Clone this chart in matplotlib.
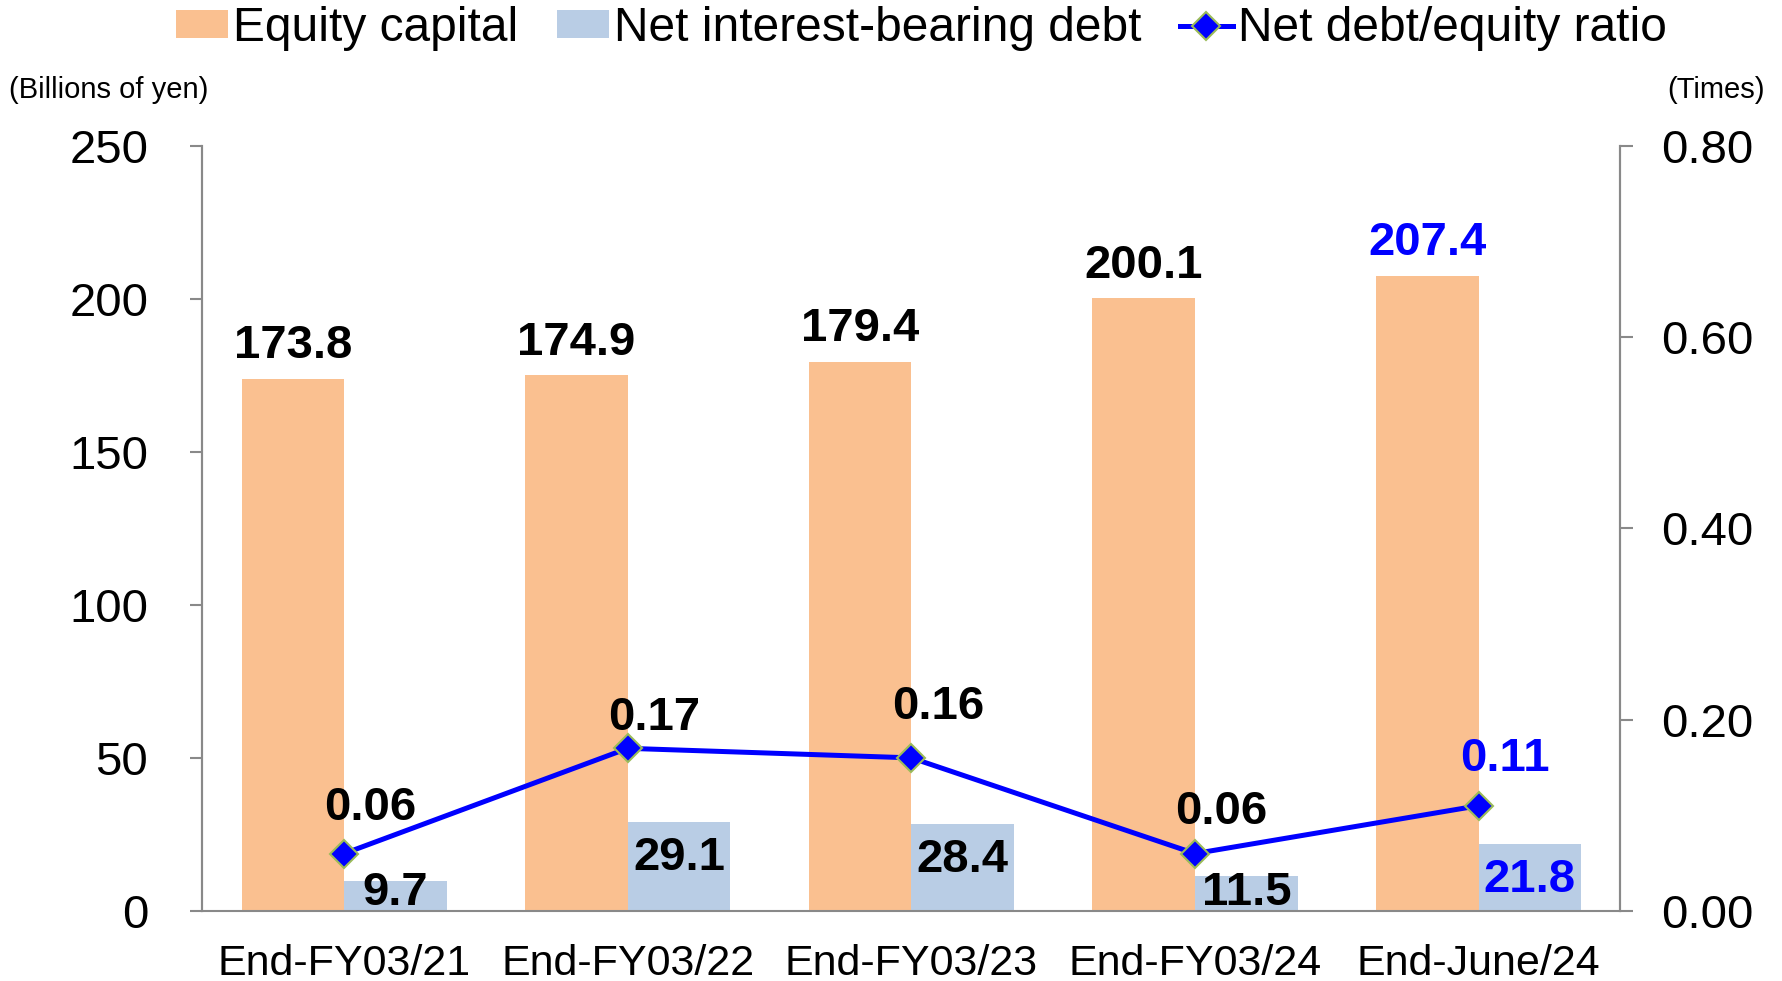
import matplotlib
matplotlib.use("Agg")
import matplotlib.pyplot as plt
import numpy as np

# data
periods = ["End-FY03/21", "End-FY03/22", "End-FY03/23", "End-FY03/24", "End-June/24"]
equity = [173.8, 174.9, 179.4, 200.1, 207.4]
net_debt = [9.7, 29.1, 28.4, 11.5, 21.8]
de_ratio = [0.06, 0.17, 0.16, 0.06, 0.11]

plt.rcParams['font.family'] = ['Liberation Sans', 'DejaVu Sans']

orange = '#FAC090'
lightblue = '#B9CDE5'
blue = '#0000FF'
grey = '#898989'
label_colors = ['black', 'black', 'black', 'black', blue]

fig = plt.figure(figsize=(17.83, 9.81), dpi=100)
ax = fig.add_axes([0.1135, 0.0714, 0.7953, 0.7802])
ax2 = ax.twinx()

x = np.arange(len(periods))
w = 0.362

b1 = ax.bar(x - w / 2, equity, w, color=orange, label='Equity capital', zorder=2)
b2 = ax.bar(x + w / 2, net_debt, w, color=lightblue, label='Net interest-bearing debt', zorder=2)
ln, = ax2.plot(x, de_ratio, color=blue, lw=3.6, marker='D', markersize=14,
               markerfacecolor=blue, markeredgecolor='#9BBB59', markeredgewidth=1.5,
               label='Net debt/equity ratio', zorder=3)

ax.set_xlim(-0.5, len(periods) - 0.5)
ax.set_ylim(0, 250)
ax.set_yticks(np.arange(0, 251, 50))
ax2.set_ylim(0, 0.8)
ax2.set_yticks(np.arange(0, 0.81, 0.2))
ax2.set_yticklabels(['%.2f' % t for t in np.arange(0, 0.81, 0.2)])

ax.set_xticks(x)
ax.set_xticklabels(periods, fontsize=31)
ax.tick_params(axis='x', length=0, pad=24)
ax.tick_params(axis='y', labelsize=34, length=9, width=1.5, color=grey, pad=30)
ax2.tick_params(axis='y', labelsize=34, length=9, width=1.5, color=grey, pad=20)

for a in (ax, ax2):
    a.spines['top'].set_visible(False)
    for s in ('left', 'right', 'bottom'):
        a.spines[s].set_color(grey)
        a.spines[s].set_linewidth(1.5)
ax2.spines['bottom'].set_visible(False)

# value labels
for i in range(len(periods)):
    c = label_colors[i]
    ax.annotate('%.1f' % equity[i], (x[i] - w / 2, equity[i]), xytext=(0, 15),
                textcoords='offset points', ha='center', va='baseline',
                fontsize=34, fontweight='bold', color=c, zorder=5)
    ax.text(x[i] + w / 2, max(net_debt[i] - 15.6, 2.0), '%.1f' % net_debt[i],
            ha='center', va='baseline', fontsize=34, fontweight='bold', color=c, zorder=5)

ratio_dy = [24.5, 13, 28, 21.5, 25]
for i in range(len(periods)):
    ax2.annotate('%.2f' % de_ratio[i], (x[i], de_ratio[i]), xytext=(19, ratio_dy[i]),
                 textcoords='offset points', ha='center', va='baseline',
                 fontsize=34, fontweight='bold', color=label_colors[i], zorder=5)

fig.text(0.005, 0.908, '(Billions of yen)', fontsize=21, ha='left', va='center')
fig.text(0.99, 0.908, '(Times)', fontsize=21, ha='right', va='center')

fig.legend([b1, b2, ln], [b1.get_label(), b2.get_label(), ln.get_label()],
           loc='center', bbox_to_anchor=(0.5166, 0.971), ncol=3, frameon=False,
           fontsize=34.5, handlelength=1.1, handleheight=0.5, handletextpad=0.1,
           columnspacing=0.8, borderaxespad=0)

fig.savefig('out.png', dpi=100)
